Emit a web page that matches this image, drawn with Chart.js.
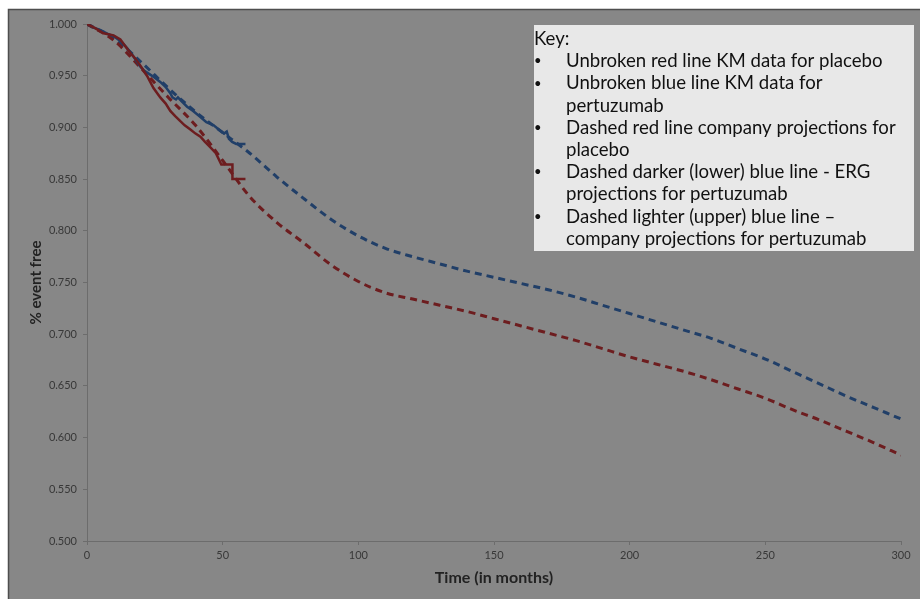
<!DOCTYPE html>
<html>
<head>
<meta charset="utf-8">
<script src="https://cdn.jsdelivr.net/npm/chart.js@4.4.1/dist/chart.umd.min.js"></script>
<style>
  html, body { margin: 0; padding: 0; background: #ffffff; }
  #wrap { width: 920px; height: 599px; }
</style>
</head>
<body>
<div id="wrap"><canvas id="c" width="920" height="599"></canvas></div>
<script>
// ---- Data ----
const xTicks = [0, 50, 100, 150, 200, 250, 300];
const yTicks = [0.500, 0.550, 0.600, 0.650, 0.700, 0.750, 0.800, 0.850, 0.900, 0.950, 1.000];

// Unbroken red line: KM data for placebo
const kmPlaceboTime  = [0, 3, 6.1, 9.8, 12.3, 14, 16, 18, 19.6, 22.1, 24.5, 27, 29, 30.7, 32.5, 34.4, 36, 38.1, 40, 41.8, 43.5, 45.4, 47.5, 49.5, 53.6, 53.6, 58.4];
const kmPlaceboValue = [1.000, 0.996, 0.991, 0.989, 0.985, 0.979, 0.972, 0.966, 0.960, 0.950, 0.938, 0.929, 0.923, 0.916, 0.911, 0.906, 0.902, 0.898, 0.894, 0.891, 0.886, 0.881, 0.875, 0.864, 0.864, 0.850, 0.850];

// Unbroken blue line: KM data for pertuzumab
const kmPertuzumabTime  = [0, 2, 5, 8, 10, 13, 15, 17, 19.6, 21, 23.3, 25, 27, 29, 30.7, 31.5, 32.8, 33.5, 35, 36.9, 39, 41.8, 44, 46.7, 49, 50.5, 51.5, 52.3, 53.5, 55, 58.4];
const kmPertuzumabValue = [1.000, 0.997, 0.994, 0.990, 0.988, 0.982, 0.976, 0.969, 0.959, 0.955, 0.951, 0.948, 0.944, 0.939, 0.933, 0.929, 0.927, 0.929, 0.925, 0.920, 0.916, 0.910, 0.905, 0.902, 0.897, 0.894, 0.896, 0.889, 0.886, 0.884, 0.884];

// Dashed projections
const projTime = [0, 10, 20, 30, 40, 50, 60, 70, 80, 90, 100, 110, 120, 130, 140, 150, 160, 170, 180, 190, 200, 210, 220, 230, 240, 250, 260, 270, 280, 290, 300];
const projPlacebo    = [1.000, 0.984, 0.957, 0.929, 0.902, 0.868, 0.833, 0.808, 0.788, 0.767, 0.751, 0.740, 0.734, 0.728, 0.722, 0.715, 0.708, 0.701, 0.694, 0.686, 0.678, 0.671, 0.664, 0.656, 0.647, 0.638, 0.627, 0.617, 0.606, 0.595, 0.583];
const projPertuzumab = [1.000, 0.986, 0.963, 0.938, 0.915, 0.895, 0.875, 0.852, 0.831, 0.811, 0.795, 0.783, 0.775, 0.768, 0.761, 0.755, 0.749, 0.743, 0.736, 0.728, 0.720, 0.712, 0.704, 0.696, 0.686, 0.676, 0.664, 0.652, 0.640, 0.629, 0.618];

const keyTitle = 'Key:';
const keyItems = [
  ['Unbroken red line KM data for placebo'],
  ['Unbroken blue line KM data for', 'pertuzumab'],
  ['Dashed red line company projections for', 'placebo'],
  ['Dashed darker (lower) blue line - ERG', 'projections for pertuzumab'],
  ['Dashed lighter (upper) blue line \u2013', 'company projections for pertuzumab']
];

const RED = '#6d1d1f';
const BLUE = '#213f68';
const FONT = 'Lato, "Open Sans", sans-serif';

function pts(xs, ys) { return xs.map((x, i) => ({ x: x, y: ys[i] })); }

const bgPlugin = {
  id: 'bg',
  beforeDraw(chart) {
    const ctx = chart.ctx;
    ctx.save();
    ctx.fillStyle = '#ffffff';
    ctx.fillRect(0, 0, chart.width, chart.height);
    ctx.fillStyle = '#878787';
    ctx.fillRect(8, 9, chart.width - 8, chart.height - 9);
    ctx.strokeStyle = '#4e4e4e';
    ctx.lineWidth = 1.5;
    ctx.beginPath();
    ctx.moveTo(8.5, chart.height);
    ctx.lineTo(8.5, 9.5);
    ctx.lineTo(chart.width, 9.5);
    ctx.stroke();
    ctx.restore();
  }
};

const keyPlugin = {
  id: 'keybox',
  afterDatasetsDraw(chart) {
    const ctx = chart.ctx;
    ctx.save();
    ctx.fillStyle = '#e8e8e8';
    ctx.fillRect(534, 25, 380, 226);
    ctx.fillStyle = '#111111';
    ctx.textBaseline = 'middle';
    ctx.textAlign = 'left';
    ctx.font = '18.6px ' + FONT;
    let y = 39;
    const lh = 22.2;
    ctx.fillText(keyTitle, 534, y);
    y += lh;
    keyItems.forEach(lines => {
      ctx.font = '13px ' + FONT;
      ctx.fillText('\u2022', 534, y);
      ctx.font = '18.6px ' + FONT;
      lines.forEach(l => { ctx.fillText(l, 566, y); y += lh; });
    });
    ctx.restore();
  }
};

new Chart(document.getElementById('c'), {
  type: 'line',
  data: {
    datasets: [
      { label: 'KM placebo', data: pts(kmPlaceboTime, kmPlaceboValue), borderColor: RED, borderWidth: 2.5, pointRadius: 0, tension: 0, order: 0 },
      { label: 'KM pertuzumab', data: pts(kmPertuzumabTime, kmPertuzumabValue), borderColor: BLUE, borderWidth: 2.5, pointRadius: 0, tension: 0, order: 0 },
      { label: 'Company projection placebo', data: pts(projTime, projPlacebo), borderColor: RED, borderWidth: 3, borderDash: [7, 5], pointRadius: 0, cubicInterpolationMode: 'monotone', order: 1 },
      { label: 'Projections pertuzumab', data: pts(projTime, projPertuzumab), borderColor: BLUE, borderWidth: 3, borderDash: [7, 5], pointRadius: 0, cubicInterpolationMode: 'monotone', order: 1 }
    ]
  },
  options: {
    responsive: false,
    devicePixelRatio: 1,
    animation: false,
    layout: { padding: { left: 0, top: 24, right: 19, bottom: 0 } },
    plugins: { legend: { display: false }, tooltip: { enabled: false } },
    scales: {
      x: {
        type: 'linear', min: 0, max: 300,
        afterBuildTicks(scale) { scale.ticks = xTicks.map(v => ({ value: v })); },
        afterFit(scale) { scale.height = 58; },
        grid: { drawOnChartArea: false, drawTicks: true, tickLength: 4, color: '#6c6c6c' },
        border: { color: '#6c6c6c', width: 1 },
        ticks: { color: '#383838', font: { family: FONT, size: 11 }, padding: 4, maxRotation: 0, callback: v => String(v) },
        title: { display: true, text: 'Time (in months)', color: '#222222', font: { family: FONT, size: 16, weight: 'bold' }, padding: { top: 0, bottom: 12 } }
      },
      y: {
        type: 'linear', min: 0.5, max: 1.0,
        afterBuildTicks(scale) { scale.ticks = yTicks.map(v => ({ value: v })); },
        afterFit(scale) { scale.width = 87; },
        grid: { drawOnChartArea: false, drawTicks: true, tickLength: 4, color: '#6c6c6c' },
        border: { color: '#6c6c6c', width: 1 },
        ticks: { color: '#383838', font: { family: FONT, size: 11 }, padding: 6, callback: v => Number(v).toFixed(3) },
        title: { display: true, text: '% event free', color: '#222222', font: { family: FONT, size: 15, weight: 'bold' }, padding: { top: 27, bottom: 0 } }
      }
    }
  },
  plugins: [bgPlugin, keyPlugin]
});
</script>
</body>
</html>
